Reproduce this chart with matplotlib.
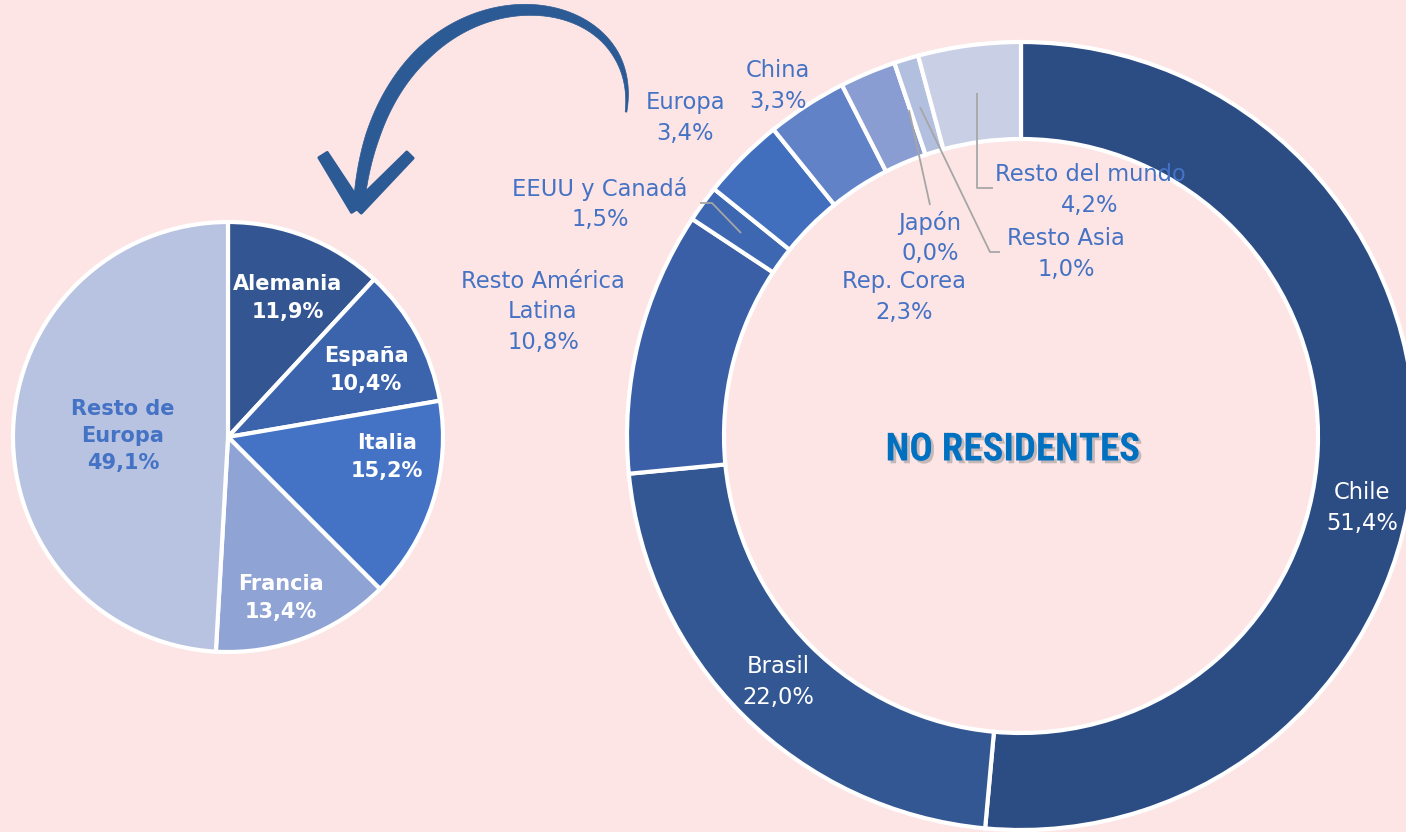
import numpy as np
import matplotlib
matplotlib.use("Agg")
import matplotlib.pyplot as plt
from matplotlib.patches import Polygon
import matplotlib.patheffects as pe
from matplotlib import font_manager

# ---------------- data ----------------
nr_labels = ["Chile", "Brasil", "Resto América\nLatina", "EEUU y Canadá", "Europa",
             "China", "Rep. Corea", "Japón", "Resto Asia", "Resto del mundo"]
nr_values = [51.4, 22.0, 10.8, 1.5, 3.4, 3.3, 2.3, 0.0, 1.0, 4.2]
nr_colors = ["#2c4c84", "#335792", "#3a5fa6", "#3e67b1", "#416fbd",
             "#6282c8", "#8a9dd2", "#a9b6dc", "#b3bfdf", "#c9d0e6"]

eu_labels = ["Alemania", "España", "Italia", "Francia", "Resto de\nEuropa"]
eu_values = [11.9, 10.4, 15.2, 13.4, 49.1]
eu_colors = ["#335592", "#3c64ac", "#4472c4", "#8fa3d4", "#b8c3e1"]

BG = "#fde5e5"
LBL = "#4472c4"
W, H = 1406, 832

def fmt(v):
    return f"{v:.1f}".replace(".", ",") + "%"

fig = plt.figure(figsize=(W / 100, H / 100), dpi=100, facecolor=BG)
ax = fig.add_axes([0, 0, 1, 1])
ax.set_facecolor(BG)

def Y(y):  # image y -> plot y
    return H - y

# ---------------- donut (No residentes) ----------------
ax.pie(nr_values, radius=394, center=(1021, Y(436)), startangle=90, counterclock=False,
       colors=nr_colors, normalize=True,
       wedgeprops=dict(width=97, edgecolor="white", linewidth=3))

# ---------------- pie (Europa) ----------------
ax.pie(eu_values, radius=215, center=(228, Y(437)), startangle=90, counterclock=False,
       colors=eu_colors, normalize=True,
       wedgeprops=dict(edgecolor="white", linewidth=3))

ax.set_xlim(0, W)
ax.set_ylim(0, H)
ax.set_aspect("equal")
ax.axis("off")

FONT = "DejaVu Sans"
fs = 16.3

# donut labels: (x, y_center_of_block, color)
nr_pos = [(1362, 508, "white"), (778, 682, "white"), (543, 312, LBL), (600, 204, LBL),
          (685, 118, LBL), (778, 86, LBL), (904, 297, LBL), (930, 238, LBL),
          (1066, 254, LBL), (1090, 190, LBL)]
for lab, val, (x, y, c) in zip(nr_labels, nr_values, nr_pos):
    ax.text(x, Y(y), f"{lab}\n{fmt(val)}", ha="center", va="center", color=c,
            fontsize=fs, family=FONT, linespacing=1.41)

# leader lines
lc = "#a6a6a6"
leaders = [
    [(700, 203), (712, 203), (741, 233)],     # EEUU y Canadá
    [(930, 205), (909, 110)],                 # Japón
    [(1000, 252), (990, 252), (920, 107)],    # Resto Asia
    [(993, 188), (977, 188), (977, 93)],      # Resto del mundo
]
for pts in leaders:
    xs, ys = zip(*pts)
    ax.plot(xs, [Y(v) for v in ys], color=lc, lw=1.3, solid_capstyle="butt")

# pie labels
eu_pos = [(288, 298, "white"), (366, 370, "white"), (387, 457, "white"),
          (281, 598, "white"), (123, 436, LBL)]
for lab, val, (x, y, c) in zip(eu_labels, eu_values, eu_pos):
    ax.text(x, Y(y), f"{lab}\n{fmt(val)}", ha="center", va="center", color=c,
            fontsize=15, family=FONT, fontweight="bold", linespacing=1.45)

# centre title
names = {f.name for f in font_manager.fontManager.ttflist}
if "Roboto Condensed" in names:
    tfam, tsz = "Roboto Condensed", 28
elif "Liberation Sans Narrow" in names:
    tfam, tsz = "Liberation Sans Narrow", 28
else:
    tfam, tsz = "Roboto", 24
t = ax.text(1013, Y(450), "NO RESIDENTES", ha="center", va="center", color="#0070c0",
            fontsize=tsz, family=tfam, fontweight="bold")
t.set_path_effects([pe.withSimplePatchShadow(offset=(2, -2), shadow_rgbFace="#808080", alpha=0.45)])

# ---------------- curved arrow (decoration) ----------------
acol = "#2b5a94"
P = np.array([(626, 112), (645, -30), (382, -45), (359, 203)], float)
tt = np.linspace(0, 1, 300)
B = ((1 - tt) ** 3)[:, None] * P[0] + (3 * (1 - tt) ** 2 * tt)[:, None] * P[1] \
    + (3 * (1 - tt) * tt ** 2)[:, None] * P[2] + (tt ** 3)[:, None] * P[3]
d = np.gradient(B, axis=0)
nrm = np.stack([-d[:, 1], d[:, 0]], 1)
nrm /= np.linalg.norm(nrm, axis=1)[:, None]
wdt = np.interp(tt, [0, 0.15, 0.45, 0.72, 0.9, 1.0], [0.8, 3.0, 5.5, 7.5, 7.0, 5.5])
left = B + nrm * wdt[:, None]
right = B - nrm * wdt[:, None]
poly = np.vstack([left, right[::-1]])
poly[:, 1] = H - poly[:, 1]
ax.add_patch(Polygon(poly, closed=True, fc=acol, ec=acol, lw=0.5))

tip = np.array([357, 209.0])
for end, hw0, hw1 in [((323, 155), 6.5, 5.0), ((410, 155), 6.0, 4.5)]:
    end = np.array(end, float)
    v = end - tip
    n = np.array([-v[1], v[0]]) / np.linalg.norm(v)
    pts = np.array([tip + n * hw0, end + n * hw1, end - n * hw1, tip - n * hw0])
    pts[:, 1] = H - pts[:, 1]
    ax.add_patch(Polygon(pts, closed=True, fc=acol, ec=acol, lw=2, joinstyle="round"))

fig.savefig("out.png", dpi=100, facecolor=BG)
